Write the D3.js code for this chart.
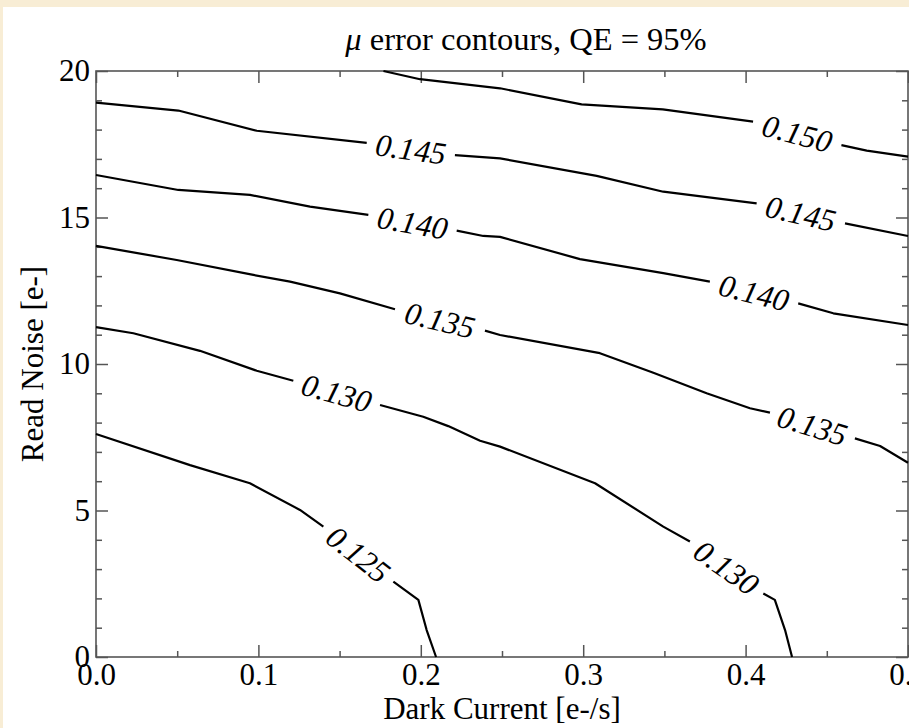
<!DOCTYPE html>
<html><head><meta charset="utf-8">
<script src="https://cdn.jsdelivr.net/npm/d3@7"></script>
<style>html,body{margin:0;padding:0;background:#fff;overflow:hidden}</style>
</head><body>
<svg id="c" width="909" height="728"></svg>
<script>
// ---- data ----
const xTicks = [0, 0.1, 0.2, 0.3, 0.4, 0.5];
const xMinor = [0.05, 0.15, 0.25, 0.35, 0.45];
const yTicks = [0, 5, 10, 15, 20];
const yMinor = [1,2,3,4,6,7,8,9,11,12,13,14,16,17,18,19];
const levels = ["0.125", "0.130", "0.135", "0.140", "0.145", "0.150"];

// each contour: list of line pieces; a label sits in each gap between pieces
const c125 = [
  [[0,7.61],[0.0579,6.55],[0.0948,5.93],[0.1256,5.02],[0.14,4.45]],
  [[0.1831,2.57],[0.1985,1.95],[0.2036,0.92],[0.2094,0]]
];
const c130 = [
  [[0,11.26],[0.023,11.05],[0.064,10.45],[0.099,9.77],[0.1215,9.43]],
  [[0.1749,8.60],[0.2015,8.20],[0.2169,7.88],[0.2365,7.38],[0.2488,7.18],[0.3073,5.93],[0.3493,4.45],[0.3657,3.94]],
  [[0.4109,2.17],[0.418,1.95],[0.4243,0.92],[0.4286,0]]
];
const c135 = [
  [[0,14.03],[0.0497,13.55],[0.0969,13.04],[0.1195,12.81],[0.1502,12.41],[0.1841,11.87]],
  [[0.2395,11.14],[0.2488,10.99],[0.3103,10.37],[0.3432,9.70],[0.376,9.00],[0.4027,8.49],[0.415,8.34]],
  [[0.4673,7.46],[0.4828,7.20],[0.5,6.63]]
];
const c140 = [
  [[0,16.45],[0.0507,15.94],[0.0948,15.77],[0.1318,15.37],[0.1677,15.09]],
  [[0.2221,14.55],[0.2385,14.37],[0.2488,14.34],[0.298,13.58],[0.3493,13.10],[0.378,12.81]],
  [[0.4324,12.07],[0.454,11.73],[0.5,11.33]]
];
const c145 = [
  [[0,18.92],[0.0507,18.65],[0.099,17.96],[0.1667,17.55]],
  [[0.221,17.13],[0.2488,17.02],[0.3083,16.42],[0.3493,15.88],[0.4068,15.48]],
  [[0.4612,14.80],[0.5,14.37]]
];
const c150 = [
  [[0.177,20.0],[0.1995,19.72],[0.2488,19.41],[0.299,18.86],[0.349,18.69],[0.4046,18.27]],
  [[0.459,17.47],[0.4746,17.28],[0.5,17.08]]
];
const contours = [c125, c130, c135, c140, c145, c150];

const titleMain = " error contours, QE = 95%";
const xTitle = "Dark Current [e-/s]";
const yTitle = "Read Noise [e-]";

// ---- layout ----
const W = 909, H = 728;
const L = 96, R = 908, T = 71, B = 657;
const FONT = "'Liberation Serif', 'Times New Roman', serif";
const frameCol = "#555";

const svg = d3.select("#c");
svg.append("rect").attr("width", W).attr("height", H).attr("fill", "#f8edd5");
svg.append("rect").attr("x", 3).attr("y", 7).attr("width", W).attr("height", H).attr("fill", "#fff");

const x = d3.scaleLinear().domain([0, 0.5]).range([L, R]);
const y = d3.scaleLinear().domain([0, 20]).range([B, T]);

function styleAxis(g) {
  g.select(".domain").remove();
  g.selectAll(".tick line").attr("stroke", frameCol).attr("stroke-width", 1.5);
  g.selectAll("text").attr("font-family", FONT).attr("font-size", 31).attr("fill", "#000");
}

// major + minor ticks, all four sides, pointing inward
svg.append("g").attr("transform", `translate(0,${B})`)
  .call(d3.axisBottom(x).tickValues(xTicks).tickFormat(d3.format(".1f")).tickSizeInner(-12).tickSizeOuter(0).tickPadding(6))
  .call(styleAxis);
svg.append("g").attr("transform", `translate(0,${B})`)
  .call(d3.axisBottom(x).tickValues(xMinor).tickFormat("").tickSizeInner(-6).tickSizeOuter(0))
  .call(styleAxis);
svg.append("g").attr("transform", `translate(0,${T})`)
  .call(d3.axisTop(x).tickValues(xTicks).tickFormat("").tickSizeInner(-12).tickSizeOuter(0))
  .call(styleAxis);
svg.append("g").attr("transform", `translate(0,${T})`)
  .call(d3.axisTop(x).tickValues(xMinor).tickFormat("").tickSizeInner(-6).tickSizeOuter(0))
  .call(styleAxis);
svg.append("g").attr("transform", `translate(${L},0)`)
  .call(d3.axisLeft(y).tickValues(yTicks).tickFormat(d3.format("d")).tickSizeInner(-12).tickSizeOuter(0).tickPadding(6))
  .call(styleAxis);
svg.append("g").attr("transform", `translate(${L},0)`)
  .call(d3.axisLeft(y).tickValues(yMinor).tickFormat("").tickSizeInner(-6).tickSizeOuter(0))
  .call(styleAxis);
svg.append("g").attr("transform", `translate(${R},0)`)
  .call(d3.axisRight(y).tickValues(yTicks).tickFormat("").tickSizeInner(-12).tickSizeOuter(0))
  .call(styleAxis);
svg.append("g").attr("transform", `translate(${R},0)`)
  .call(d3.axisRight(y).tickValues(yMinor).tickFormat("").tickSizeInner(-6).tickSizeOuter(0))
  .call(styleAxis);

// frame
svg.append("rect").attr("x", L).attr("y", T).attr("width", R - L).attr("height", B - T)
  .attr("fill", "none").attr("stroke", frameCol).attr("stroke-width", 1.6);

// contours
const line = d3.line().x(d => x(d[0])).y(d => y(d[1]));
const cg = svg.append("g");
contours.forEach((pieces, ci) => {
  pieces.forEach(p => {
    cg.append("path").attr("d", line(p)).attr("fill", "none")
      .attr("stroke", "#000").attr("stroke-width", 2.2).attr("stroke-linejoin", "round");
  });
  for (let i = 0; i < pieces.length - 1; i++) {
    const a = pieces[i][pieces[i].length - 1], b = pieces[i + 1][0];
    const x1 = x(a[0]), y1 = y(a[1]), x2 = x(b[0]), y2 = y(b[1]);
    const ang = Math.atan2(y2 - y1, x2 - x1) * 180 / Math.PI;
    cg.append("text")
      .attr("transform", `translate(${(x1 + x2) / 2},${(y1 + y2) / 2}) rotate(${ang})`)
      .attr("text-anchor", "middle").attr("dy", "0.35em")
      .attr("font-family", FONT).attr("font-style", "italic").attr("font-size", 31.5)
      .text(levels[ci]);
  }
});

// titles
const t = svg.append("text").attr("x", 526).attr("y", 50).attr("text-anchor", "middle")
  .attr("font-family", FONT).attr("font-size", 32.5);
t.append("tspan").attr("font-style", "italic").text("\u03bc");
t.append("tspan").text(titleMain);

svg.append("text").attr("x", (L + R) / 2).attr("y", 719).attr("text-anchor", "middle")
  .attr("font-family", FONT).attr("font-size", 31).text(xTitle);
svg.append("text").attr("transform", `translate(43,${(T + B) / 2}) rotate(-90)`)
  .attr("text-anchor", "middle").attr("font-family", FONT).attr("font-size", 31).text(yTitle);
</script>
</body></html>
